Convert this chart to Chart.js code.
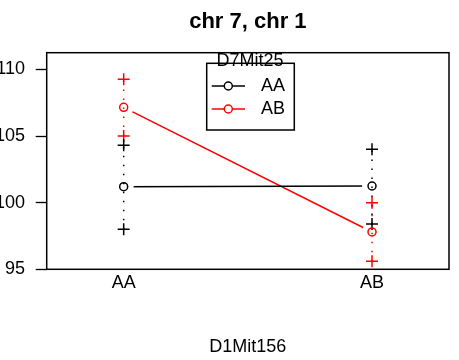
<!DOCTYPE html>
<html>
<head>
<meta charset="utf-8">
<script src="https://cdn.jsdelivr.net/npm/chart.js@4"></script>
<style>
html,body{margin:0;padding:0;background:#fff;}
canvas{display:block;}
</style>
</head>
<body>
<canvas id="c" width="459" height="360"></canvas>
<script>
// ---- data ----
const categories = ['AA', 'AB'];            // D1Mit156 genotypes (x)
const groups = ['AA', 'AB'];                // D7Mit25 genotypes (lines)
const groupColors = ['#000000', '#ff0000'];
const meanAA = [101.2, 101.25];
const meanAB = [107.15, 97.8];
const upperAA = [104.3, 104.0];
const lowerAA = [98.0, 98.4];
const upperAB = [109.25, 100.0];
const lowerAB = [105.0, 95.6];
const yTicks = [95, 100, 105, 110];
const chartTitle = 'chr 7, chr 1';
const xTitle = 'D1Mit156';
const legendTitle = 'D7Mit25';

const FONT = "'Liberation Sans', Arial, Helvetica, sans-serif";
Chart.defaults.font.family = FONT;
Chart.defaults.color = '#000';

const means = [meanAA, meanAB];
const uppers = [upperAA, upperAB];
const lowers = [lowerAA, lowerAB];

const datasets = [];
groups.forEach((g, gi) => {
  const col = groupColors[gi];
  const pts = categories.map((c, i) => ({x: i + 1, y: means[gi][i]}));
  // mean line
  datasets.push({label: g + ' line', data: pts, showLine: true, borderColor: col,
    borderWidth: 1.5, pointRadius: 0, order: 10});
  // gap discs (type "b" look)
  datasets.push({label: g + ' gap', data: pts, showLine: false, pointRadius: 10,
    pointBackgroundColor: '#fff', pointBorderWidth: 0, pointBorderColor: '#fff', order: 9});
  // dotted range segments
  const seg = [];
  categories.forEach((c, i) => {
    seg.push({x: i + 1, y: lowers[gi][i]});
    seg.push({x: i + 1, y: uppers[gi][i]});
    seg.push({x: i + 1, y: null});
  });
  datasets.push({label: g + ' range', data: seg, showLine: true, spanGaps: false,
    borderColor: col, borderWidth: 1.5, borderDash: [1.5, 7.5], pointRadius: 0, order: 8});
  // + markers
  const crosses = [];
  categories.forEach((c, i) => {
    crosses.push({x: i + 1, y: uppers[gi][i]});
    crosses.push({x: i + 1, y: lowers[gi][i]});
  });
  datasets.push({label: g + ' bounds', data: crosses, showLine: false, pointStyle: 'cross',
    pointRadius: 6, pointBorderColor: col, pointBorderWidth: 1.5, order: 7});
  // open circles
  datasets.push({label: g, data: pts, showLine: false, pointStyle: 'circle',
    pointRadius: 4, pointBackgroundColor: 'rgba(255,255,255,0)', pointBorderColor: col,
    pointBorderWidth: 1.5, order: 1});
});

const boxPlugin = {
  id: 'box',
  afterDatasetsDraw(chart) {
    const a = chart.chartArea, ctx = chart.ctx;
    ctx.save();
    ctx.strokeStyle = '#000';
    ctx.lineWidth = 1.5;
    ctx.strokeRect(a.left, a.top, a.right - a.left, a.bottom - a.top);
    ctx.restore();
  }
};

const legendPlugin = {
  id: 'rlegend',
  afterDraw(chart) {
    const ctx = chart.ctx;
    const bx = 206.7, by = 63.3, bw = 87.6, bh = 66.7;
    ctx.save();
    ctx.fillStyle = '#fff';
    ctx.fillRect(bx, by, bw, bh);
    ctx.strokeStyle = '#000';
    ctx.lineWidth = 1.5;
    ctx.strokeRect(bx, by, bw, bh);
    ctx.font = '18px ' + FONT;
    ctx.fillStyle = '#000';
    ctx.textAlign = 'center';
    ctx.textBaseline = 'alphabetic';
    ctx.fillText(legendTitle, 250, 66.3);
    const rowsY = [86, 109];
    groups.forEach((g, gi) => {
      const y = rowsY[gi];
      ctx.strokeStyle = groupColors[gi];
      ctx.lineWidth = 1.5;
      ctx.beginPath();
      ctx.moveTo(211.7, y); ctx.lineTo(245, y);
      ctx.stroke();
      ctx.fillStyle = '#fff';
      ctx.beginPath();
      ctx.arc(228.3, y, 4, 0, Math.PI * 2);
      ctx.fill();
      ctx.stroke();
      ctx.fillStyle = '#000';
      ctx.textAlign = 'left';
      ctx.textBaseline = 'middle';
      ctx.fillText(g, 261, y + 0.5);
    });
    ctx.restore();
  }
};

new Chart(document.getElementById('c'), {
  type: 'scatter',
  data: {datasets},
  options: {
    responsive: false,
    animation: false,
    devicePixelRatio: 1,
    layout: {padding: {left: 0, right: 6.5, top: 0, bottom: 0}},
    plugins: {
      legend: {display: false},
      tooltip: {enabled: false},
      title: {display: true, text: chartTitle, fullSize: false, color: '#000',
        font: {size: 22, weight: 'bold', family: FONT},
        padding: {top: 8.3, bottom: 18}}
    },
    scales: {
      x: {
        type: 'linear', min: 0.69, max: 2.31,
        afterBuildTicks: s => { s.ticks = categories.map((c, i) => ({value: i + 1})); },
        afterFit: s => { s.height = 90.7; s.paddingLeft = 0; s.paddingRight = 0; },
        ticks: {callback: v => categories[v - 1] ?? '', padding: -5, color: '#000',
          font: {size: 18}, maxRotation: 0, autoSkip: false},
        grid: {display: false},
        border: {display: false},
        title: {display: true, text: xTitle, color: '#000', font: {size: 18},
          padding: {top: 0, bottom: 1.7}}
      },
      y: {
        type: 'linear', min: 95, max: 111.25,
        afterBuildTicks: s => { s.ticks = yTicks.map(v => ({value: v})); },
        afterFit: s => { s.width = 46.7; s.paddingTop = 0; s.paddingBottom = 0; },
        ticks: {padding: 10.7, color: '#000', font: {size: 18}},
        grid: {display: true, drawOnChartArea: false, drawTicks: true, tickLength: 11,
          tickColor: '#000', tickWidth: 1.3},
        border: {display: false}
      }
    }
  },
  plugins: [boxPlugin, legendPlugin]
});
</script>
</body>
</html>
